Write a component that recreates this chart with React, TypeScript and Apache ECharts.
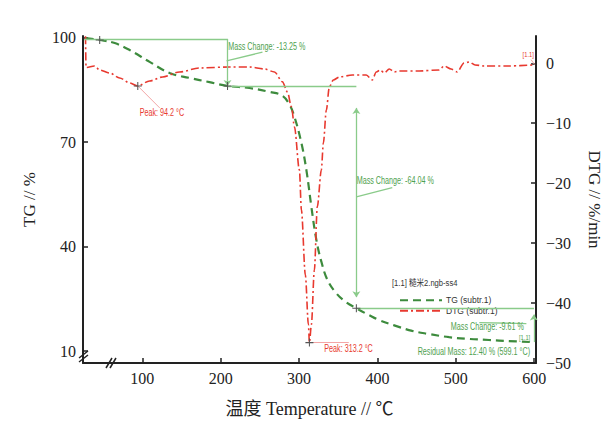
import React, { useEffect, useRef } from 'react';
import * as echarts from 'echarts';

// ---- data ----
const tgTemp = [27.8, 45.6, 64.8, 83.8, 109.3, 134.8, 160.3, 185.7, 208.7, 236.7, 262.2, 278.7, 287.6, 294, 302.9, 309.3, 315.7, 322, 328.4, 336.1, 347.5, 360.3, 373.1, 389.6, 402.4, 421.4, 444.4, 466, 491.5, 517, 542.4, 567.9, 597.2];
const tgValue = [99.86, 99.3, 98.4, 96.4, 93.0, 89.8, 88.4, 87.2, 86.1, 85.5, 84.4, 83.3, 80.8, 77.3, 69.8, 62.0, 51.4, 42.0, 35.7, 30.5, 26.6, 24.0, 22.3, 20.3, 18.9, 17.4, 15.8, 14.9, 14.0, 13.5, 13.2, 12.9, 12.6];

const dtgTemp = [27.5, 28.2, 39, 45.6, 58.4, 71.1, 83.8, 94.2, 109.3, 125.9, 147.5, 173, 211.2, 236.7, 255.8, 268.6, 278.8, 285.2, 290.3, 294.1, 300.4, 303.0, 308.0, 311.9, 313.2, 315.7, 319.5, 323.3, 328.4, 331, 334.8, 338.6, 343.7, 351.4, 368, 385.7, 393.4, 398.5, 403.6, 408.7, 415.1, 421.4, 427.8, 453.3, 478.7, 485.1, 494, 501.7, 510.6, 517, 524.6, 536.1, 567.9, 599.8];
const dtgValue = [4.5, -0.7, -0.45, -1.12, -1.62, -2.45, -3.28, -3.78, -2.95, -2.28, -1.45, -0.78, -0.62, -0.62, -0.95, -1.45, -3.1, -4.8, -7.3, -10.6, -17.8, -24.5, -35.3, -43.6, -46.6, -43.6, -34.5, -23.9, -17.8, -13.3, -7.8, -3.95, -2.8, -2.28, -1.95, -1.95, -2.78, -1.45, -1.12, -1.62, -0.95, -1.45, -1.28, -1.28, -1.12, -0.45, -0.95, -1.45, 0.05, 0.22, -0.28, -0.45, -0.45, -0.28];

const xTicks = [100, 200, 300, 400, 500, 600];
const tgTicks = [10, 40, 70, 100];
const dtgTicks = [0, -10, -20, -30, -40, -50];

const tgName = 'TG (subtr.1)';
const dtgName = 'DTG (subtr.1)';
const sampleName = '[1.1] 糙米2.ngb-ss4';

// mass-change evaluation (TG axis): [T, TG]
const step1 = { startT: 26, endT: 208.7, top: 99.6, bottom: 86.1 };
const step2 = { T: 373.1, top: 79.8, bottom: 25.5, levelEnd: 22.2 };
const step3 = { T: 599.5, top: 20.5, bottom: 12.6, levelEndT: 599.7 };
const tgMarks = [[45.6, 99.3], [208.7, 86.1], [373.1, 22.3]];
const dtgPeaks = [[94.2, -3.78], [313.2, -46.6]];

// annotation texts: axis 0 = TG, axis 1 = DTG
const annTexts = [
  { text: 'Mass Change: -13.25 %', coord: [209.5, 97.3], align: 'left', axis: 0, color: 'g', size: 10 },
  { text: 'Mass Change: -64.04 %', coord: [373.5, 58.9], align: 'left', axis: 0, color: 'g', size: 10 },
  { text: 'Mass Change: -9.61 %', coord: [587, 17.0], align: 'right', axis: 0, color: 'g', size: 10 },
  { text: 'Residual Mass: 12.40 % (599.1 °C)', coord: [594.7, 9.86], align: 'right', axis: 0, color: 'g', size: 10 },
  { text: '[1.1]', coord: [580.6, 13.9], align: 'left', axis: 0, color: 'g', size: 8 },
  { text: 'Peak: 94.2 °C', coord: [96.6, -8.3], align: 'left', axis: 1, color: 'r', size: 10 },
  { text: 'Peak: 313.2 °C', coord: [332.2, -47.6], align: 'left', axis: 1, color: 'r', size: 10 },
  { text: '[1.1]', coord: [585.2, 1.5], align: 'left', axis: 1, color: 'r', size: 8 },
];

const GREEN = '#3d8b3d';
const RED = '#e8392f';
const ANN_GREEN = '#8acb8a';
const TXT_GREEN = '#4f9f4f';
const ANN_RED = '#f3a6a6';
const SERIF = "'Liberation Serif', 'Times New Roman', 'Noto Sans CJK SC', serif";
const SANS = "'Liberation Sans', Arial, 'Noto Sans CJK SC', sans-serif";
const NARROW_SCALE = 0.72;

const plus = 'path://M4,0h1.2v4h4v1.2h-4v4h-1.2v-4h-4v-1.2h4z';

function seg(a: number[], b: number[], s1 = 'none', s2 = 'none') {
  return [{ coord: a, symbol: s1 }, { coord: b, symbol: s2 }];
}

export default function App() {
  const ref = useRef<HTMLDivElement>(null);
  useEffect(() => {
    if (!ref.current) return;
    const chart = echarts.init(ref.current, undefined, { renderer: 'svg' });
    const minus = (v: number) => (v < 0 ? '\u2212' + Math.abs(v) : String(v));

    const tgData = tgTemp.map((t, i) => [t, tgValue[i]]);
    const dtgData = dtgTemp.map((t, i) => [t, dtgValue[i]]);

    const breakMarks = [
      { type: 'line', shape: { x1: 79, y1: 358, x2: 88, y2: 351 }, style: { stroke: '#222', lineWidth: 1.5 } },
      { type: 'line', shape: { x1: 79, y1: 362, x2: 88, y2: 355 }, style: { stroke: '#222', lineWidth: 1.5 } },
      { type: 'line', shape: { x1: 106, y1: 368, x2: 112, y2: 358 }, style: { stroke: '#222', lineWidth: 1.5 } },
      { type: 'line', shape: { x1: 110, y1: 368, x2: 116, y2: 358 }, style: { stroke: '#222', lineWidth: 1.5 } },
    ];

    const option: any = {
      animation: false,
      backgroundColor: '#ffffff',
      grid: { left: 83, right: 74, top: 36, bottom: 64 },
      legend: {
        left: 394,
        top: 291,
        orient: 'vertical',
        itemWidth: 42,
        itemHeight: 8,
        itemGap: 2,
        data: [tgName, dtgName],
        itemStyle: { opacity: 0 },
        textStyle: { fontSize: 8.5, fontFamily: SANS, color: '#333', padding: [0, 0, 0, -1] },
      },
      graphic: breakMarks,
      xAxis: {
        type: 'value',
        min: 24.3,
        max: 602.3,
        name: '温度 Temperature // ℃',
        nameLocation: 'middle',
        nameGap: 37,
        nameTextStyle: { fontSize: 18, fontFamily: SERIF, color: '#222' },
        axisLine: { show: true, onZero: false, lineStyle: { color: '#222', width: 2 } },
        axisTick: { show: true, inside: true, length: 5, customValues: xTicks, lineStyle: { color: '#222', width: 1.5 } },
        axisLabel: { customValues: xTicks, fontSize: 16, fontFamily: SERIF, color: '#222', margin: 7 },
        splitLine: { show: false },
      },
      yAxis: [
        {
          type: 'value',
          min: 6.6,
          max: 100.43,
          position: 'left',
          name: 'TG // %',
          nameLocation: 'middle',
          nameGap: 45,
          nameRotate: 90,
          nameTextStyle: { fontSize: 17, fontFamily: SERIF, color: '#222' },
          axisLine: { show: true, onZero: false, lineStyle: { color: '#222', width: 2 } },
          axisTick: { show: true, inside: true, length: 5, customValues: tgTicks, lineStyle: { color: '#222', width: 1.5 } },
          axisLabel: { customValues: tgTicks, fontSize: 16, fontFamily: SERIF, color: '#222', margin: 7 },
          splitLine: { show: false },
        },
        {
          type: 'value',
          min: -50,
          max: 4.55,
          position: 'right',
          name: 'DTG // %/min',
          nameLocation: 'middle',
          nameGap: 50,
          nameRotate: -90,
          nameTextStyle: { fontSize: 17, fontFamily: SERIF, color: '#222' },
          axisLine: { show: true, onZero: false, lineStyle: { color: '#222', width: 2 } },
          axisTick: { show: true, inside: true, length: 5, customValues: dtgTicks, lineStyle: { color: '#222', width: 1.5 } },
          axisLabel: { customValues: dtgTicks, formatter: minus, fontSize: 16, fontFamily: SERIF, color: '#222', margin: 10 },
          splitLine: { show: false },
        },
      ],
      series: [
        {
          name: tgName,
          type: 'line',
          yAxisIndex: 0,
          data: tgData,
          symbol: 'none',
          smooth: 0.4,
          z: 3,
          lineStyle: { color: GREEN, width: 2.2, type: [8, 5] },
          itemStyle: { color: GREEN },
          markLine: {
            silent: true,
            symbolSize: 6,
            label: { show: false },
            lineStyle: { color: ANN_GREEN, width: 1.3, type: 'solid' },
            data: [
              seg([step1.startT, step1.top], [step1.endT, step1.top]),
              seg([step1.endT, step1.top], [step1.endT, step1.bottom], 'none', 'arrow'),
              seg([step1.endT, step1.bottom], [step2.T, step1.bottom]),
              seg([step2.T, step2.top], [step2.T, step2.bottom], 'arrow', 'arrow'),
              seg([step2.T, step2.levelEnd], [step3.levelEndT, step2.levelEnd]),
              seg([step3.T, step3.bottom], [step3.T, step3.top], 'none', 'arrow'),
              seg([207.5, 93.3], [253.3, 95.8]),
              seg([373.1, 54.3], [418.9, 56.9]),
              seg([530, 18.2], [590, 17.9]),
            ],
          },
          markPoint: {
            silent: true,
            data: tgMarks.map((c) => ({ coord: c, symbol: plus, symbolSize: 8, itemStyle: { color: '#555' }, label: { show: false } })),
          },
        },
        {
          name: dtgName,
          type: 'line',
          yAxisIndex: 1,
          data: dtgData,
          symbol: 'none',
          smooth: 0.3,
          smoothMonotone: 'x',
          z: 4,
          lineStyle: { color: RED, width: 1.6, type: [8, 3, 2, 3] },
          itemStyle: { color: RED },
          markLine: {
            silent: true,
            symbol: 'none',
            label: { show: false },
            lineStyle: { color: ANN_RED, width: 1, type: 'solid' },
            data: [
              seg([94.2, -3.78], [122.2, -7.45]),
              seg([313.2, -46.6], [363.4, -46.6]),
              seg([596, 0.6], [600.5, -0.2]),
            ],
          },
          markPoint: {
            silent: true,
            data: dtgPeaks.map((c) => ({ coord: c, symbol: plus, symbolSize: 8, itemStyle: { color: '#555' }, label: { show: false } })),
          },
        },
      ],
    };
    chart.setOption(option);

    // condensed annotation texts, positioned through the axes
    const texts = annTexts.map((o) => {
      const p = chart.convertToPixel({ xAxisIndex: 0, yAxisIndex: o.axis }, o.coord) as number[];
      return {
        type: 'text',
        x: p[0],
        y: p[1],
        scaleX: NARROW_SCALE,
        z: 10,
        style: {
          text: o.text,
          fontSize: o.size,
          fontFamily: SANS,
          fill: o.color === 'g' ? TXT_GREEN : RED,
          textAlign: o.align,
          textVerticalAlign: 'middle',
        },
      };
    });
    const header = {
      type: 'text',
      x: 392,
      y: 283,
      scaleX: 0.8,
      z: 10,
      style: { text: sampleName, fontSize: 9.5, fontFamily: SANS, fill: '#333', textAlign: 'left', textVerticalAlign: 'middle' },
    };
    chart.setOption({ graphic: [...breakMarks, ...texts, header] });
    return () => chart.dispose();
  }, []);
  return <div ref={ref} style={{ position: 'absolute', left: 0, top: 0, width: 611, height: 427 }} />;
}
